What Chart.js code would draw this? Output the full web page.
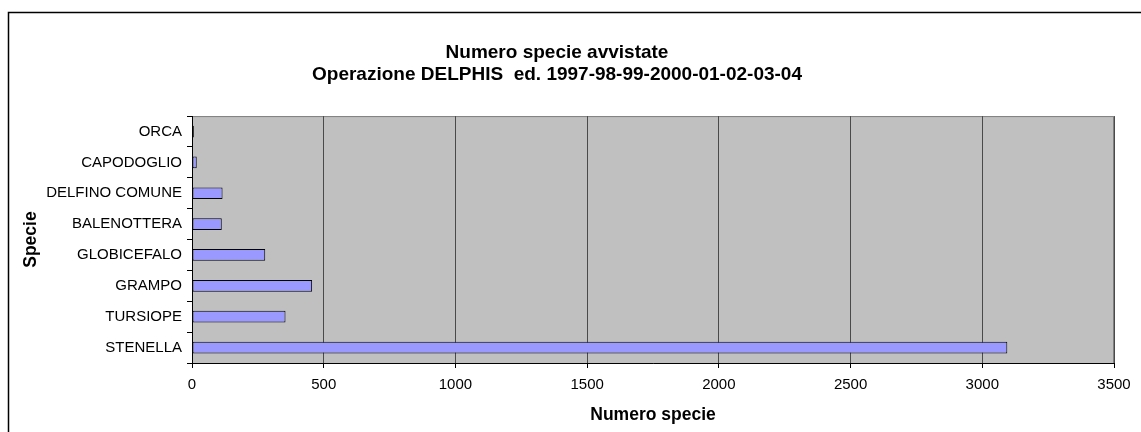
<!DOCTYPE html>
<html>
<head>
<meta charset="utf-8">
<script src="https://cdn.jsdelivr.net/npm/chart.js@4/dist/chart.umd.min.js"></script>
<style>
  html, body { margin: 0; padding: 0; background: #fff; }
  #avvistamenti { display: block; }
</style>
</head>
<body>
<canvas id="avvistamenti" width="1141" height="432"></canvas>
<script>
// dati (Excel), dal basso verso l'alto
var categorie = ["STENELLA", "TURSIOPE", "GRAMPO", "GLOBICEFALO", "BALENOTTERA", "DELFINO COMUNE", "CAPODOGLIO", "ORCA"];
var avvistamenti = [3095, 355, 456, 278, 113, 116, 18, 7];
var tickValori = [0, 500, 1000, 1500, 2000, 2500, 3000, 3500];

var FONT = "'Liberation Sans', Arial, sans-serif";

// sfondo grigio dell'area del grafico + cornice esterna
var sfondoPlot = {
    id: "sfondoPlot",
    beforeDraw: function (chart) {
        var ctx = chart.ctx, a = chart.chartArea;
        ctx.save();
        ctx.fillStyle = "#c0c0c0";
        ctx.fillRect(a.left, a.top, a.right - a.left, a.bottom - a.top);
        ctx.strokeStyle = "#808080";
        ctx.lineWidth = 1;
        ctx.strokeRect(a.left + 0.5, a.top + 0.5, a.right - a.left - 1, a.bottom - a.top);
        // cornice esterna (esce a destra e in basso)
        ctx.strokeStyle = "#000";
        ctx.lineWidth = 1.5;
        ctx.beginPath();
        ctx.moveTo(8.5, 440);
        ctx.lineTo(8.5, 12.5);
        ctx.lineTo(1150, 12.5);
        ctx.stroke();
        ctx.restore();
    }
};

var ctx = document.getElementById("avvistamenti").getContext("2d");
var chart = new Chart(ctx, {
    type: "bar",
    data: {
        labels: categorie,
        datasets: [{
            label: "Numero specie",
            data: avvistamenti,
            backgroundColor: "#9999ff",
            borderColor: "#000",
            borderWidth: 1,
            borderSkipped: false,
            barPercentage: 0.38,
            categoryPercentage: 1
        }]
    },
    options: {
        responsive: false,
        animation: false,
        indexAxis: "y",
        layout: { padding: { left: 0, right: 27, top: 0, bottom: 0 } },
        plugins: {
            legend: { display: false },
            tooltip: { enabled: false },
            title: {
                display: true,
                text: ["Numero specie avvistate", "Operazione DELPHIS  ed. 1997-98-99-2000-01-02-03-04"],
                color: "#000",
                font: { family: FONT, size: 19, weight: "bold", lineHeight: 1.16 },
                padding: { top: 42, bottom: 30 }
            }
        },
        scales: {
            x: {
                min: 0,
                max: 3500,
                afterBuildTicks: function (scale) {
                    scale.ticks = tickValori.map(function (v) { return { value: v }; });
                },
                afterFit: function (scale) { scale.height = 69; },
                border: { display: true, color: "#000", width: 1 },
                grid: { color: "#4a4a4a", tickColor: "#000", tickLength: 5, drawOnChartArea: true },
                ticks: {
                    color: "#000",
                    padding: 8,
                    maxRotation: 0,
                    font: { family: FONT, size: 15 },
                    callback: function (v) { return String(v); }
                },
                title: {
                    display: true,
                    text: "Numero specie",
                    color: "#000",
                    font: { family: FONT, size: 17.5, weight: "bold" },
                    padding: { top: 0, bottom: 6 }
                }
            },
            y: {
                reverse: true,
                afterFit: function (scale) { scale.width = 192; },
                border: { display: true, color: "#000", width: 1 },
                grid: { offset: true, drawOnChartArea: false, tickColor: "#000", tickLength: 5 },
                ticks: {
                    color: "#000",
                    padding: 5,
                    autoSkip: false,
                    font: { family: FONT, size: 15 }
                },
                title: {
                    display: true,
                    text: "Specie",
                    color: "#000",
                    font: { family: FONT, size: 17.5, weight: "bold" },
                    padding: { top: 21, bottom: 0 }
                }
            }
        }
    },
    plugins: [sfondoPlot]
});
</script>
</body>
</html>
